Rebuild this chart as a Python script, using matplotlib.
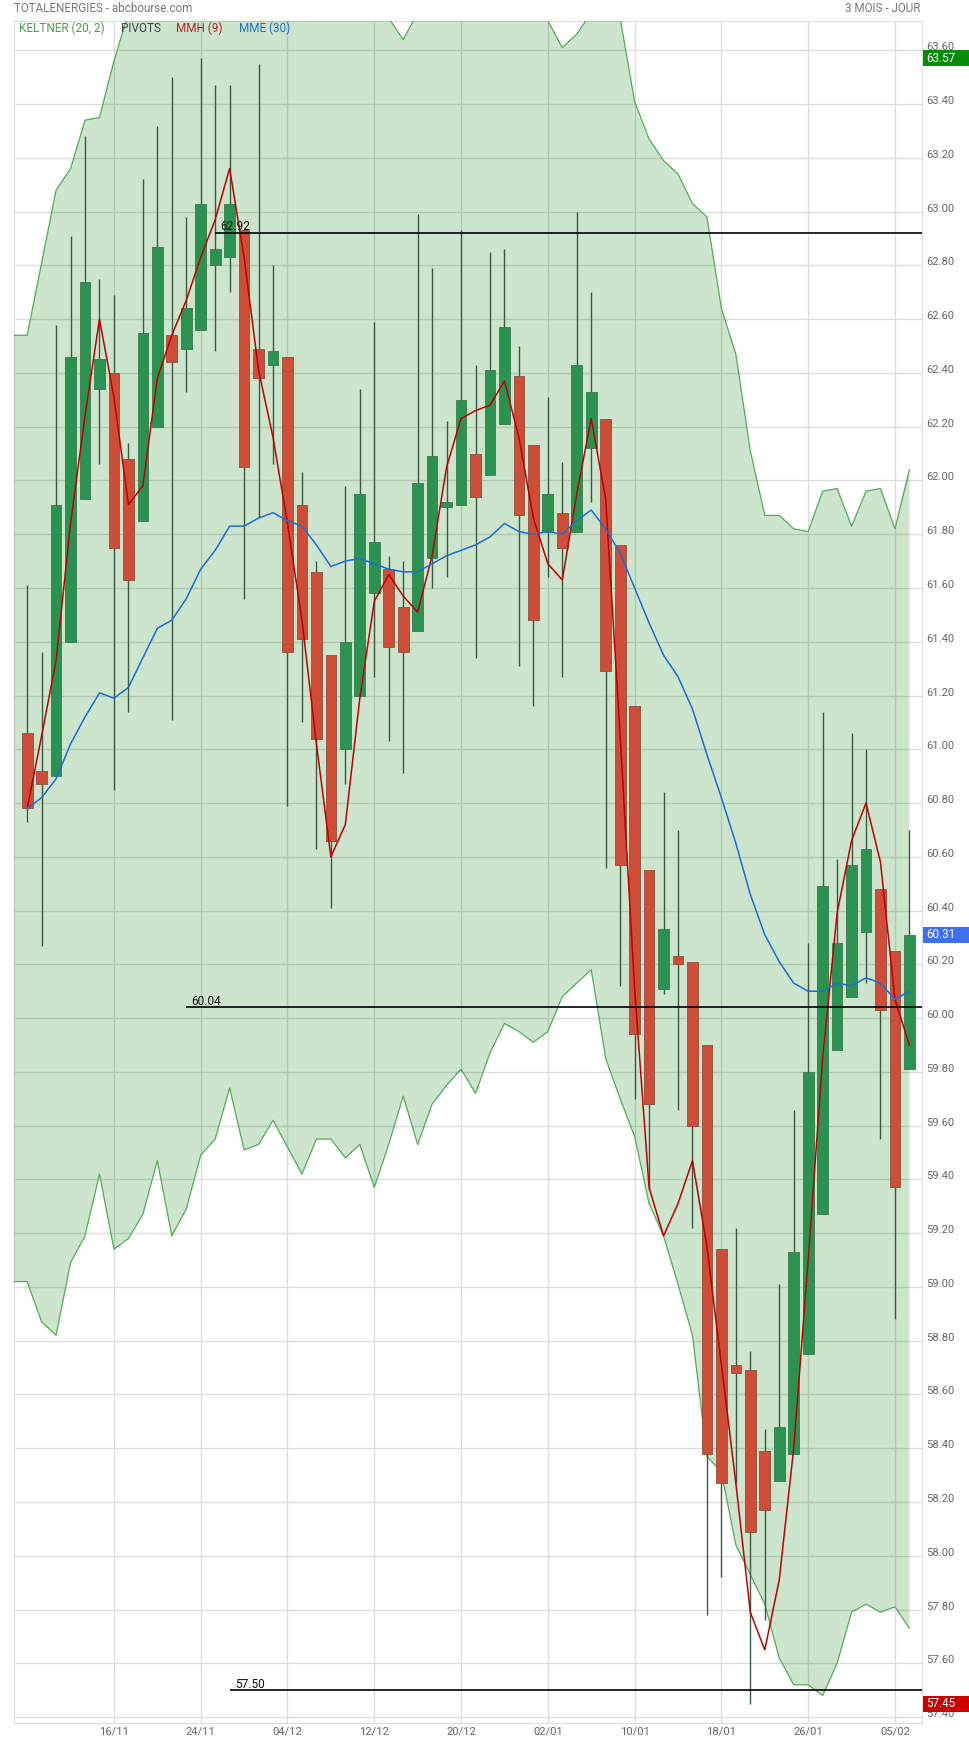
import matplotlib
matplotlib.use('Agg')
import matplotlib.pyplot as plt
import matplotlib.transforms as mtrans
from matplotlib.patches import Rectangle
import numpy as np

plt.rcParams['font.family'] = ['Roboto', 'DejaVu Sans']

# daily candles, 08/11 -> 06/02
opens = [61.06, 60.92, 60.90, 61.40, 61.93, 62.34, 62.40, 62.08, 61.85, 62.20,
         62.54, 62.49, 62.56, 62.80, 62.83, 62.93, 62.49, 62.43, 62.46, 61.91,
         61.66, 61.35, 61.00, 61.20, 61.58, 61.67, 61.53, 61.44, 61.71, 61.90,
         61.91, 62.10, 62.02, 62.21, 62.39, 62.13, 61.81, 61.88, 61.81, 62.12,
         62.23, 61.76, 61.16, 60.55, 60.11, 60.23, 60.21, 59.90, 59.14, 58.71,
         58.69, 58.39, 58.28, 58.38, 58.75, 59.27, 59.88, 60.08, 60.32, 60.48,
         60.25, 59.81]
highs = [61.61, 61.36, 62.58, 62.91, 63.28, 62.75, 62.69, 62.14, 63.12, 63.32,
         63.50, 62.98, 63.57, 63.47, 63.47, 62.93, 63.55, 62.80, 62.46, 62.03,
         61.70, 61.35, 61.98, 62.34, 62.59, 61.72, 61.70, 62.99, 62.79, 62.22,
         62.93, 62.43, 62.85, 62.86, 62.50, 62.13, 62.31, 62.07, 63.00, 62.70,
         62.23, 61.76, 61.16, 60.55, 60.84, 60.70, 60.21, 59.90, 59.14, 59.22,
         58.76, 58.47, 59.01, 59.66, 60.28, 61.14, 60.59, 61.06, 61.00, 60.48,
         60.25, 60.70]
lows = [60.73, 60.27, 60.90, 61.40, 61.93, 62.06, 60.85, 61.14, 61.85, 62.20,
        61.11, 62.33, 62.56, 62.48, 62.70, 61.56, 61.86, 62.06, 60.79, 61.10,
        60.63, 60.41, 60.87, 61.20, 61.27, 61.03, 60.91, 61.44, 61.60, 61.64,
        61.91, 61.34, 62.02, 62.21, 61.31, 61.16, 61.64, 61.27, 61.81, 61.92,
        60.56, 60.12, 59.70, 59.36, 60.09, 59.66, 59.22, 57.78, 57.92, 58.27,
        57.45, 57.76, 58.28, 58.38, 58.75, 59.27, 59.88, 60.08, 60.13, 59.55,
        58.88, 59.81]
closes = [60.78, 60.87, 61.91, 62.46, 62.74, 62.45, 61.75, 61.63, 62.55, 62.87,
          62.44, 62.64, 63.03, 62.86, 63.03, 62.05, 62.38, 62.48, 61.36, 61.41,
          61.04, 60.66, 61.40, 61.95, 61.77, 61.38, 61.36, 61.99, 62.09, 61.92,
          62.30, 61.94, 62.41, 62.57, 61.87, 61.48, 61.95, 61.75, 62.43, 62.33,
          61.29, 60.57, 59.94, 59.68, 60.33, 60.20, 59.60, 58.38, 58.27, 58.68,
          58.09, 58.17, 58.48, 59.13, 59.80, 60.49, 60.28, 60.57, 60.63, 60.03,
          59.37, 60.31]

mmh = [60.78, 61.05, 61.33, 61.84, 62.24, 62.60, 62.31, 61.91, 61.98, 62.38,
       62.54, 62.67, 62.83, 62.97, 63.16, 62.83, 62.41, 62.16, 61.84, 61.48,
       61.02, 60.60, 60.72, 61.19, 61.55, 61.65, 61.57, 61.51, 61.72, 62.05,
       62.23, 62.26, 62.28, 62.37, 62.16, 61.86, 61.69, 61.63, 61.95, 62.23,
       61.93, 61.05, 60.11, 59.37, 59.19, 59.31, 59.47, 59.15, 58.71, 58.27,
       57.79, 57.65, 57.91, 58.40, 59.10, 59.85, 60.39, 60.66, 60.80, 60.58,
       60.07, 59.90]
mme = [60.78, 60.82, 60.89, 61.02, 61.12, 61.21, 61.19, 61.23, 61.34, 61.45,
       61.48, 61.56, 61.67, 61.74, 61.83, 61.83, 61.86, 61.88, 61.85, 61.83,
       61.76, 61.68, 61.70, 61.71, 61.69, 61.67, 61.66, 61.66, 61.69, 61.72,
       61.74, 61.76, 61.79, 61.84, 61.81, 61.80, 61.81, 61.80, 61.85, 61.89,
       61.82, 61.73, 61.60, 61.47, 61.35, 61.27, 61.15, 60.98, 60.82, 60.65,
       60.46, 60.31, 60.21, 60.13, 60.10, 60.10, 60.13, 60.12, 60.15, 60.13,
       60.07, 60.10]
kelt_up = [62.54, 62.81, 63.08, 63.16, 63.34, 63.35, 63.56, 63.74, 63.85, 63.92,
           63.95, 63.98, 64.02, 64.05, 64.08, 64.05, 64.00, 63.95, 63.92, 63.88,
           63.85, 63.82, 63.80, 63.78, 63.76, 63.72, 63.64, 63.74, 63.78, 63.80,
           63.82, 63.84, 63.85, 63.86, 63.84, 63.78, 63.71, 63.61, 63.66, 63.74,
           63.80, 63.72, 63.41, 63.27, 63.19, 63.14, 63.03, 62.98, 62.64, 62.47,
           62.11, 61.87, 61.87, 61.82, 61.81, 61.96, 61.97, 61.83, 61.96, 61.97,
           61.82, 62.04]
kelt_dn = [59.02, 58.87, 58.82, 59.09, 59.19, 59.42, 59.14, 59.18, 59.27, 59.47,
           59.19, 59.29, 59.49, 59.55, 59.74, 59.51, 59.53, 59.62, 59.52, 59.42,
           59.55, 59.55, 59.48, 59.53, 59.37, 59.53, 59.71, 59.53, 59.68, 59.75,
           59.81, 59.72, 59.87, 59.98, 59.95, 59.91, 59.95, 60.08, 60.13, 60.18,
           59.85, 59.70, 59.56, 59.31, 59.19, 59.01, 58.82, 58.37, 58.31, 58.04,
           57.93, 57.82, 57.62, 57.52, 57.52, 57.48, 57.60, 57.79, 57.82, 57.79,
           57.81, 57.73]

pivots = [62.92, 60.04, 57.50]
pivot_start = [13, 11, 14]

dates = ['16/11', '24/11', '04/12', '12/12', '20/12', '02/01', '10/01', '18/01', '26/01', '05/02']
date_pos = [6, 12, 18, 24, 30, 36, 42, 48, 54, 60]

last_boxes = [(63.57, '#0a8a0a'), (60.31, '#3c6ff2'), (57.45, '#cc0000')]

W, H = 970, 1744
fig = plt.figure(figsize=(W / 100, H / 100), dpi=100)
ax = fig.add_axes([14 / W, 1 - 1723 / H, (922 - 14) / W, (1723 - 21) / H])

x = np.arange(len(closes))
xmin, xmax = -0.91, 61.87
ax.set_xlim(xmin, xmax)
ax.set_ylim(57.378, 63.709)

yt = np.round(np.arange(57.4, 63.61, 0.2), 2)
ax.set_yticks(yt)
ax.set_xticks(date_pos, dates)
ax.grid(True, color='#dcdcdc', lw=1, zorder=0)
ax.set_axisbelow(True)
ax.tick_params(axis='y', length=0, labelleft=False, labelright=False)
ax.tick_params(axis='x', length=0, pad=2.5, labelsize=8.1, labelcolor='#666666')
for sp in ax.spines.values():
    sp.set_color('#dddddd')
    sp.set_zorder(0.5)

# keltner band, held flat to the left edge
bx = np.r_[xmin, x]
up = np.r_[kelt_up[0], kelt_up]
dn = np.r_[kelt_dn[0], kelt_dn]
ax.fill_between(bx, dn, up, color=(0, 0.5, 0), alpha=0.2, lw=0, zorder=1)
ax.plot(bx, up, color='#55ab55', lw=0.9, zorder=1.5)
ax.plot(bx, dn, color='#55ab55', lw=0.9, zorder=1.5)

o = np.array(opens)
c = np.array(closes)
rise = c >= o
body_bot = np.minimum(o, c)
body_h = np.maximum(np.abs(c - o), 0.012)
ax.vlines(x, lows, highs, color='#3d5a42', lw=1, zorder=2)
ax.bar(x, body_h, bottom=body_bot, width=0.74,
       color=np.where(rise, '#2a9352', '#cf4c36'),
       edgecolor=np.where(rise, '#3a7a50', '#8c5040'), linewidth=0.6, zorder=3)

ax.plot(x, mmh, color='#c00000', lw=1.1, zorder=4)
ax.plot(x, mme, color='#1a6fd6', lw=1.1, zorder=4)

for v, s in zip(pivots, pivot_start):
    ax.hlines(v, s, xmax, color='black', lw=1.2, zorder=5)
    ax.text(s + 0.35, v + 0.01, f'{v:.2f}', fontsize=8.6, color='#111111',
            va='baseline', zorder=5)

trans = mtrans.blended_transform_factory(fig.transFigure, ax.transData)
for v in yt:
    ax.text(926.5 / W, v, f'{v:.2f}', transform=trans, fontsize=8.1, color='#666666',
            va='baseline', ha='left', clip_on=False, zorder=6)

for v, col in last_boxes:
    ax.add_patch(Rectangle((923 / W, v - 0.0295), (W - 923) / W, 0.059, transform=trans,
                           facecolor=col, edgecolor='none', clip_on=False, zorder=7))
    ax.text(926 / W, v, f'{v:.2f}', transform=trans, fontsize=8.4, color='white',
            va='center', ha='left', clip_on=False, zorder=8)

fig.text(14 / W, 1 - 8.5 / H, 'TOTALENERGIES - abcbourse.com', fontsize=8.4,
         color='#777777', va='center')
fig.text(921 / W, 1 - 8.5 / H, '3 MOIS - JOUR', fontsize=8.4, color='#777777',
         va='center', ha='right')

legend = [('KELTNER (20, 2)', '#45a045', 19), ('PIVOTS', '#444444', 121),
          ('MMH (9)', '#b82020', 176), ('MME (30)', '#1f6fd0', 239)]
for txt, col, px in legend:
    fig.text(px / W, 1 - 28 / H, txt, fontsize=8.5, color=col, va='center')

fig.savefig('out.png', dpi=100)
